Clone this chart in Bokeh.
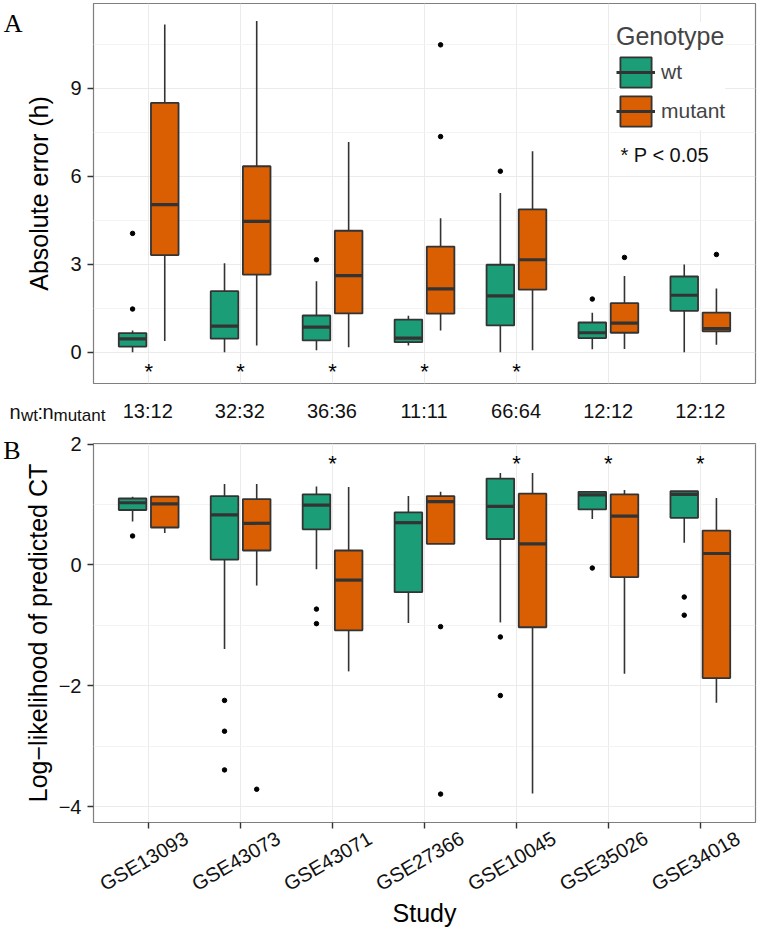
import math
import numpy as np
from bokeh.plotting import figure
from bokeh.models import (ColumnDataSource, Range1d, FixedTicker, LinearAxis,
                          Label, Legend, LegendItem)
from bokeh.layouts import column
from bokeh.embed import file_html
from bokeh.resources import INLINE
from bokeh.core.properties import value

# ---------------- data ----------------
studies = ["GSE13093", "GSE43073", "GSE43071", "GSE27366", "GSE10045", "GSE35026", "GSE34018"]
n_labels = ["13:12", "32:32", "36:36", "11:11", "66:64", "12:12", "12:12"]
genotypes = ["wt", "mutant"]
geno_colors = ["#1B9E77", "#D95F02"]

# Panel A: absolute error (h)  -> lower whisker, q1, median, q3, upper whisker
err_wt_lo  = [0.00, 0.00, 0.06, 0.23, 0.00, 0.10, 0.00]
err_wt_q1  = [0.19, 0.46, 0.40, 0.34, 0.91, 0.48, 1.41]
err_wt_med = [0.45, 0.89, 0.85, 0.48, 1.92, 0.66, 1.94]
err_wt_q3  = [0.65, 2.08, 1.25, 1.11, 2.98, 1.01, 2.58]
err_wt_hi  = [0.74, 3.03, 2.42, 1.24, 5.43, 1.34, 2.99]

err_mu_lo  = [0.38, 0.23, 0.17, 0.74, 0.06, 0.11, 0.25]
err_mu_q1  = [3.31, 2.64, 1.32, 1.31, 2.13, 0.66, 0.71]
err_mu_med = [5.03, 4.46, 2.61, 2.16, 3.15, 0.99, 0.80]
err_mu_q3  = [8.50, 6.34, 4.14, 3.60, 4.87, 1.67, 1.35]
err_mu_hi  = [11.17, 11.29, 7.17, 4.57, 6.85, 2.60, 2.17]

err_out_study = [1, 1, 3, 5, 6, 4, 4, 6, 7]
err_out_geno  = ["wt", "wt", "wt", "wt", "wt", "mutant", "mutant", "mutant", "mutant"]
err_out_val   = [1.47, 4.05, 3.15, 6.17, 1.81, 7.35, 10.48, 3.23, 3.33]

err_star_study = [1, 2, 3, 4, 5]

# Panel B: log-likelihood of predicted CT
ll_wt_lo  = [0.72, -1.39, -0.07, -0.96, -0.95, 0.76, 0.37]
ll_wt_q1  = [0.91, 0.09, 0.59, -0.45, 0.43, 0.92, 0.78]
ll_wt_med = [1.03, 0.83, 0.99, 0.70, 0.97, 1.16, 1.17]
ll_wt_q3  = [1.10, 1.14, 1.17, 0.87, 1.43, 1.21, 1.22]
ll_wt_hi  = [1.13, 1.34, 1.30, 1.14, 1.52, 1.22, 1.22]

ll_mu_lo  = [0.53, -0.34, -1.76, 0.35, -3.78, -1.80, -2.28]
ll_mu_q1  = [0.62, 0.24, -1.08, 0.35, -1.03, -0.20, -1.87]
ll_mu_med = [1.01, 0.69, -0.25, 1.05, 0.35, 0.81, 0.19]
ll_mu_q3  = [1.13, 1.09, 0.24, 1.14, 1.18, 1.17, 0.57]
ll_mu_hi  = [1.13, 1.34, 1.29, 1.21, 1.52, 1.24, 1.11]

ll_out_study = [1, 2, 2, 2, 3, 3, 5, 5, 6, 7, 7, 2, 4, 4]
ll_out_geno  = ["wt"] * 11 + ["mutant"] * 3
ll_out_val   = [0.48, -2.24, -2.75, -3.39, -0.73, -0.97, -1.19, -2.16, -0.05, -0.53, -0.83,
                -3.71, -1.02, -3.79]

ll_star_study = [3, 5, 6, 7]

err_ticks = [0, 3, 6, 9]
ll_ticks = [-4, -2, 0, 2]

# ---------------- style ----------------
FONT = "Liberation Sans"
DARK = "#333333"
BOX_W = 0.30
DODGE = {"wt": -0.175, "mutant": 0.175}
idx = np.arange(1, len(studies) + 1)
W = 758
FRAME_L, FRAME_R = 92, 3
PX_PER_UNIT = (W - FRAME_L - FRAME_R) / 7.2


def base_fig(height, yr, min_top, min_bottom):
    p = figure(width=W, height=height, x_range=Range1d(0.4, 7.6), y_range=yr,
               output_backend="svg", toolbar_location=None, x_axis_location=None,
               min_border_left=FRAME_L, min_border_right=FRAME_R,
               min_border_top=min_top, min_border_bottom=min_bottom)
    p.background_fill_color = "white"
    p.border_fill_color = "white"
    p.outline_line_color = "#7f7f7f"
    p.outline_line_width = 1.2
    p.xgrid.ticker = FixedTicker(ticks=list(idx))
    p.xgrid.grid_line_color = "#ebebeb"
    p.ygrid.grid_line_color = "#ebebeb"
    p.ygrid.minor_grid_line_color = "#f3f3f3"
    for ax in p.yaxis:
        ax.axis_line_color = None
        ax.major_tick_out = 6
        ax.major_tick_in = 0
        ax.major_tick_line_color = DARK
        ax.major_tick_line_width = 1.4
        ax.minor_tick_line_color = None
        ax.major_label_text_font = FONT
        ax.major_label_text_font_size = "20px"
        ax.major_label_text_color = "#111111"
        ax.major_label_standoff = 6
        ax.axis_label_text_font = FONT
        ax.axis_label_text_font_size = "25px"
        ax.axis_label_text_font_style = "normal"
        ax.axis_label_text_color = "black"
    return p


def panel_letter(p, letter, at, standoff):
    # outer left axis carrying only the panel letter
    lax = LinearAxis(ticker=FixedTicker(ticks=[at]), major_label_overrides={at: letter},
                     axis_line_color=None, major_tick_line_color=None, minor_tick_line_color=None,
                     major_tick_out=0, major_tick_in=0, minor_tick_out=0, minor_tick_in=0,
                     major_label_standoff=standoff, major_label_text_font="Liberation Serif",
                     major_label_text_font_size="26px", major_label_text_color="black")
    p.add_layout(lax, "left")


def draw_boxes(p, stats, out_study, out_geno, out_val, star_study, star_y):
    renderers = {}
    for g, col in zip(genotypes, geno_colors):
        lo, q1, med, q3, hi = stats[g]
        x = idx + DODGE[g]
        src = ColumnDataSource(dict(x=x, x0=x - BOX_W / 2, x1=x + BOX_W / 2,
                                    lo=lo, q1=q1, med=med, q3=q3, hi=hi))
        p.segment(x0="x", y0="q3", x1="x", y1="hi", source=src, line_color=DARK, line_width=1.6)
        p.segment(x0="x", y0="lo", x1="x", y1="q1", source=src, line_color=DARK, line_width=1.6)
        box = p.vbar(x="x", width=BOX_W, bottom="q1", top="q3", source=src,
                     fill_color=col, line_color=DARK, line_width=1.8)
        medr = p.segment(x0="x0", y0="med", x1="x1", y1="med", source=src,
                         line_color=DARK, line_width=3.2)
        renderers[g] = [box, medr]
    ox = [s + DODGE[g] for s, g in zip(out_study, out_geno)]
    p.scatter(x=ox, y=out_val, size=4.5, color="black")
    p.text(x=star_study, y=[star_y] * len(star_study), text=["*"] * len(star_study),
           text_font=value(FONT), text_font_size="22px", text_align="center",
           text_baseline="alphabetic", y_offset=3, text_color="black")
    return renderers


def screen_label(p, text, x, y, size, font=FONT, baseline="alphabetic", color="#111111"):
    p.add_layout(Label(x=x, y=y, x_units="screen", y_units="screen", text=text,
                       text_font=font, text_font_size=size, text_baseline=baseline,
                       text_color=color))


# ---------------- panel A ----------------
pA = base_fig(388, Range1d(-1.07, 11.89), 3, 5)
pA.yaxis[0].ticker = FixedTicker(ticks=err_ticks, minor_ticks=[t + 1.5 for t in err_ticks])
pA.yaxis[0].axis_label = "Absolute error (h)"
pA.yaxis[0].axis_label_standoff = 14
panel_letter(pA, "A", 11.80, 0)

rA = draw_boxes(pA, {"wt": [err_wt_lo, err_wt_q1, err_wt_med, err_wt_q3, err_wt_hi],
                     "mutant": [err_mu_lo, err_mu_q1, err_mu_med, err_mu_q3, err_mu_hi]},
                err_out_study, err_out_geno, err_out_val, err_star_study, -0.55)

legend = Legend(items=[LegendItem(label=g, renderers=rA[g]) for g in genotypes],
                location=(523, 253), title="Genotype",
                title_text_font=FONT, title_text_font_size="25px", title_text_font_style="normal",
                title_standoff=2, label_text_font=FONT, label_text_font_size="21px",
                glyph_width=39, glyph_height=38, label_standoff=6, spacing=1,
                padding=2, margin=0, border_line_color=None, background_fill_color="white",
                background_fill_alpha=1.0)
pA.add_layout(legend)
# screen units are relative to the frame's lower-left corner
screen_label(pA, "* P < 0.05", 527, 229, "20px", baseline="middle")

# ---------------- sample-size row (its frame spans the whole canvas) ----------------
NH = 40
pN = figure(width=W, height=NH, output_backend="svg", toolbar_location=None,
            x_range=Range1d(0.4 - FRAME_L / PX_PER_UNIT, 7.6 + FRAME_R / PX_PER_UNIT),
            y_range=Range1d(0, 1), x_axis_location=None, y_axis_location=None,
            min_border=0, min_border_left=0, min_border_right=0,
            min_border_top=0, min_border_bottom=0)
pN.frame_align = False
pN.outline_line_color = None
pN.grid.visible = False
pN.background_fill_color = "white"
pN.border_fill_color = "white"
pN.text(x=idx, y=[0.45] * len(idx), text=n_labels, text_font=value(FONT),
        text_font_size="20px", text_align="center", text_baseline="middle",
        text_color="#111111")
for txt, xx, yy, fs in [("n", 9, 17, "20px"), ("wt", 20.5, 13, "17px"),
                        (":", 37, 17, "20px"), ("n", 42, 17, "20px"),
                        ("mutant", 53, 13, "17px")]:
    screen_label(pN, txt, xx, yy, fs)

# ---------------- panel B ----------------
pB = base_fig(511, Range1d(-4.26, 2.01), 15, 117)
pB.yaxis[0].ticker = FixedTicker(ticks=ll_ticks, minor_ticks=[-3, -1, 1])
pB.yaxis[0].major_label_overrides = {t: (str(t).replace("-", "\u2212")) for t in ll_ticks}
pB.yaxis[0].axis_label = "Log\u2212likelihood of predicted CT"
pB.yaxis[0].axis_label_standoff = 4
panel_letter(pB, "B", 1.89, 0)

LABEL_SHIFT = 0.41
pB.extra_x_ranges = {"lab": Range1d(0.4 - LABEL_SHIFT, 7.6 - LABEL_SHIFT)}
lab_axis = LinearAxis(x_range_name="lab",
                      ticker=FixedTicker(ticks=list(idx), minor_ticks=list(idx - LABEL_SHIFT)),
                      major_label_overrides={int(i): s for i, s in zip(idx, studies)},
                      major_label_orientation=math.radians(30),
                      axis_line_color=None, major_tick_line_color=None,
                      minor_tick_line_color=DARK, minor_tick_line_width=1.4,
                      minor_tick_out=6, minor_tick_in=0,
                      major_label_text_font=FONT, major_label_text_font_size="20px",
                      major_label_text_color="#111111", major_label_standoff=8,
                      axis_label="Study", axis_label_text_font=FONT,
                      axis_label_text_font_size="25px", axis_label_text_font_style="normal",
                      axis_label_text_color="black", axis_label_standoff=-8)
pB.add_layout(lab_axis, "below")

draw_boxes(pB, {"wt": [ll_wt_lo, ll_wt_q1, ll_wt_med, ll_wt_q3, ll_wt_hi],
                "mutant": [ll_mu_lo, ll_mu_q1, ll_mu_med, ll_mu_q3, ll_mu_hi]},
           ll_out_study, ll_out_geno, ll_out_val, ll_star_study, 1.73)

layout = column(pA, pN, pB)
open("out.html", "w").write(file_html(layout, INLINE))
